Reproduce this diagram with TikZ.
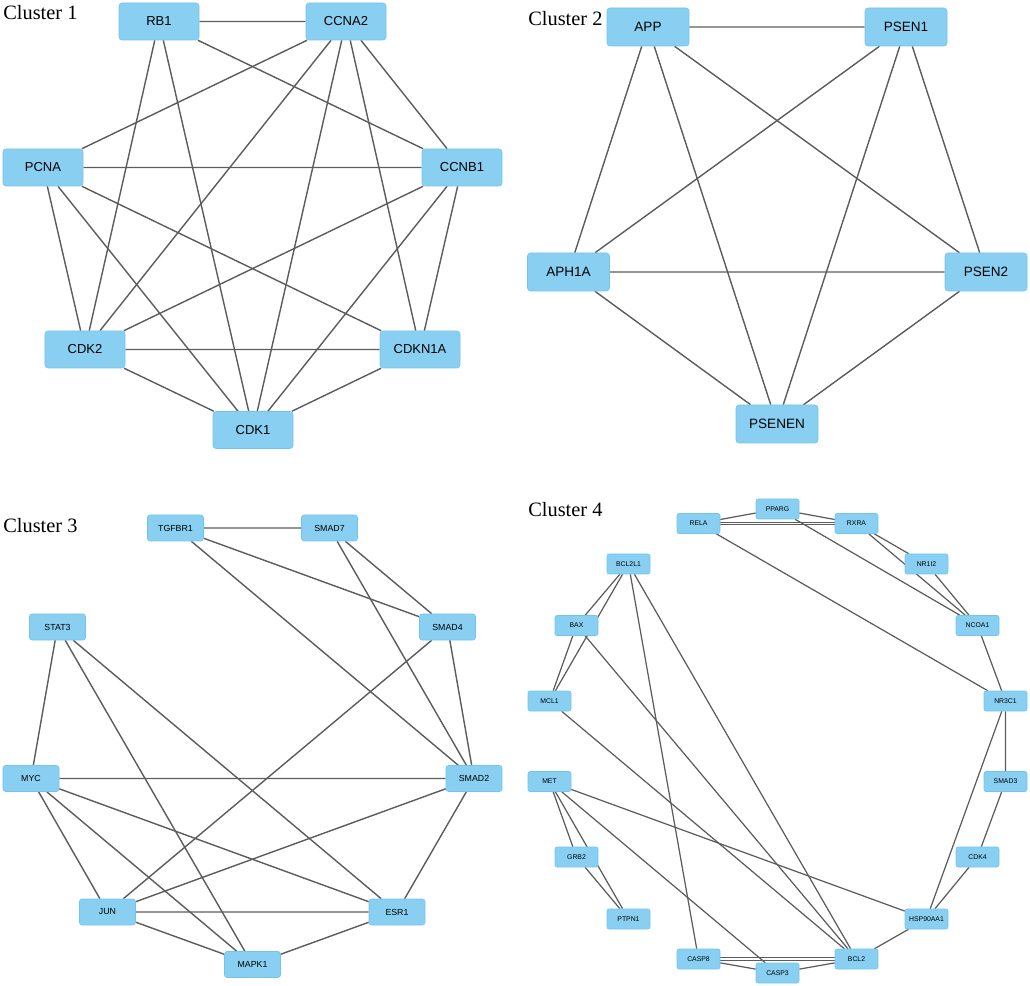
\documentclass[tikz,border=0pt]{standalone}
\usepackage{fontspec}
\setmainfont{Liberation Serif}
\newfontfamily\genefont{Liberation Sans}
\usetikzlibrary{backgrounds}
\definecolor{geneblue}{RGB}{137,207,241}
\definecolor{geneedge}{RGB}{115,196,237}
\definecolor{linkgray}{RGB}{92,92,92}
\tikzset{
	gene/.style={draw=geneedge, fill=geneblue, line width=0.3pt, inner sep=0pt},
	geneA/.style={gene, rounded corners=0.6mm, minimum width=16mm, minimum height=7.4mm, font={\genefont\fontsize{7.4}{8}\selectfont}},
	geneB/.style={gene, rounded corners=0.6mm, minimum width=16.4mm, minimum height=7.6mm, font={\genefont\fontsize{7.7}{8}\selectfont}},
	geneC/.style={gene, rounded corners=0.5mm, minimum width=11.2mm, minimum height=5.2mm, font={\genefont\fontsize{5}{6}\selectfont}},
	geneD/.style={gene, rounded corners=0.4mm, minimum width=8.6mm, minimum height=4mm, font={\genefont\fontsize{3.9}{4.5}\selectfont}},
	link/.style={draw=linkgray, line width=0.8pt},
	linkD/.style={draw=linkgray, line width=0.7pt},
	clustername/.style={anchor=base west, inner sep=0pt, font=\fontsize{11.6}{13}\selectfont}
}

\begin{document}
\begin{tikzpicture}[x=0.2mm, y=-0.2mm]
	\useasboundingbox (0,0) rectangle (1030,986);
	%%%%% CLUSTER 1 %%%%%
	\node[clustername] (lab1) at (3,20) {Cluster 1};
	\node[geneA] (rb1) at (159,21.5) {RB1};
	\node[geneA] (ccna2) at (346,21.5) {CCNA2};
	\node[geneA] (pcna) at (43,167.5) {PCNA};
	\node[geneA] (ccnb1) at (462,167.5) {CCNB1};
	\node[geneA] (cdk2) at (85,349.5) {CDK2};
	\node[geneA] (cdkn1a) at (420,349.5) {CDKN1A};
	\node[geneA] (cdk1) at (253,430) {CDK1};
	
	%%%%% CLUSTER 2 %%%%%
	\node[clustername] (lab2) at (528,26) {Cluster 2};
	\node[geneB] (app) at (648,27) {APP};
	\node[geneB] (psen1) at (906,27) {PSEN1};
	\node[geneB] (aph1a) at (568.5,272) {APH1A};
	\node[geneB] (psen2) at (986,272) {PSEN2};
	\node[geneB] (psenen) at (777,424) {PSENEN};
	
	%%%%% CLUSTER 3 %%%%%
	\node[clustername] (lab3) at (3,533) {Cluster 3};
	\node[geneC] (tgfbr1) at (175.5,528) {TGFBR1};
	\node[geneC] (smad7) at (329.5,528) {SMAD7};
	\node[geneC] (stat3) at (57.5,627) {STAT3};
	\node[geneC] (smad4) at (447.5,627) {SMAD4};
	\node[geneC] (myc) at (31,778.5) {MYC};
	\node[geneC] (smad2) at (474,778.5) {SMAD2};
	\node[geneC] (jun) at (107.5,912) {JUN};
	\node[geneC] (esr1) at (397,912) {ESR1};
	\node[geneC] (mapk1) at (252.5,964.5) {MAPK1};
	
	%%%%% CLUSTER 4 %%%%%
	\node[clustername] (lab4) at (528,517) {Cluster 4};
	\node[geneD] (pparg) at (777.5,509) {PPARG};
	\node[geneD] (rela) at (698.5,523.5) {RELA};
	\node[geneD] (rxra) at (856.5,523.5) {RXRA};
	\node[geneD] (bcl2l1) at (628.5,564) {BCL2L1};
	\node[geneD] (nr1i2) at (926.5,564) {NR1I2};
	\node[geneD] (bax) at (576.5,625.5) {BAX};
	\node[geneD] (ncoa1) at (977.5,625.5) {NCOA1};
	\node[geneD] (mcl1) at (549.5,701) {MCL1};
	\node[geneD] (nr3c1) at (1005.5,701) {NR3C1};
	\node[geneD] (met) at (549.5,781.5) {MET};
	\node[geneD] (smad3) at (1005.5,781.5) {SMAD3};
	\node[geneD] (grb2) at (576.5,857) {GRB2};
	\node[geneD] (cdk4) at (977.5,857) {CDK4};
	\node[geneD] (ptpn1) at (628.5,919) {PTPN1};
	\node[geneD] (hsp90aa1) at (926.5,919) {HSP90AA1};
	\node[geneD] (casp8) at (698.5,959) {CASP8};
	\node[geneD] (bcl2) at (856.5,959) {BCL2};
	\node[geneD] (casp3) at (777.5,973) {CASP3};
	
	%%%%% LINKS %%%%%
	\begin{scope}[on background layer]
		% cluster 1
		\draw[link] (rb1) -- (ccna2) (rb1) -- (ccnb1) (rb1) -- (cdk2) (rb1) -- (cdk1);
		\draw[link] (ccna2) -- (pcna) (ccna2) -- (cdk2) (ccna2) -- (cdk1) (ccna2) -- (cdkn1a) (ccna2) -- (ccnb1);
		\draw[link] (pcna) -- (ccnb1) (pcna) -- (cdk2) (pcna) -- (cdk1) (pcna) -- (cdkn1a);
		\draw[link] (ccnb1) -- (cdk2) (ccnb1) -- (cdk1) (ccnb1) -- (cdkn1a);
		\draw[link] (cdk2) -- (cdkn1a) (cdk2) -- (cdk1) (cdkn1a) -- (cdk1);
		% cluster 2
		\draw[link] (app) -- (psen1) (app) -- (aph1a) (app) -- (psenen) (app) -- (psen2);
		\draw[link] (psen1) -- (aph1a) (psen1) -- (psenen) (psen1) -- (psen2);
		\draw[link] (aph1a) -- (psen2) (aph1a) -- (psenen) (psen2) -- (psenen);
		% cluster 3
		\draw[link] (tgfbr1) -- (smad7) (tgfbr1) -- (smad4) (tgfbr1) -- (smad2);
		\draw[link] (smad7) -- (smad4) (smad7) -- (smad2) (smad4) -- (smad2) (smad4) -- (jun);
		\draw[link] (stat3) -- (myc) (stat3) -- (mapk1) (stat3) -- (esr1);
		\draw[link] (myc) -- (smad2) (myc) -- (jun) (myc) -- (mapk1) (myc) -- (esr1);
		\draw[link] (smad2) -- (jun) (smad2) -- (esr1);
		\draw[link] (jun) -- (esr1) (jun) -- (mapk1) (esr1) -- (mapk1);
		% cluster 4
		\draw[linkD] (rela) -- (pparg) (pparg) -- (rxra) (pparg) -- (ncoa1) (rela) -- (nr3c1);
		\draw[linkD, transform canvas={yshift=0.75pt}] (rela) -- (rxra);
		\draw[linkD, transform canvas={yshift=-0.75pt}] (rela) -- (rxra);
		\draw[linkD] (rxra) -- (nr1i2) (rxra) -- (ncoa1) (nr1i2) -- (ncoa1);
		\draw[linkD] (ncoa1) -- (nr3c1) (nr3c1) -- (smad3) (nr3c1) -- (hsp90aa1);
		\draw[linkD] (smad3) -- (cdk4) (cdk4) -- (hsp90aa1) (hsp90aa1) -- (bcl2) (hsp90aa1) -- (met);
		\draw[linkD] (bcl2) -- (casp3) (casp8) -- (casp3);
		\draw[linkD, transform canvas={yshift=0.7pt}] (casp8) -- (bcl2);
		\draw[linkD, transform canvas={yshift=-0.7pt}] (casp8) -- (bcl2);
		\draw[linkD] (bcl2) -- (bcl2l1) (bcl2) -- (bax) (bcl2) -- (mcl1);
		\draw[linkD] (bcl2l1) -- (bax) (bcl2l1) -- (mcl1) (bax) -- (mcl1) (bcl2l1) -- (casp8);
		\draw[linkD] (met) -- (grb2) (met) -- (ptpn1) (grb2) -- (ptpn1) (met) -- (casp3);
	\end{scope}
\end{tikzpicture}
\end{document}
